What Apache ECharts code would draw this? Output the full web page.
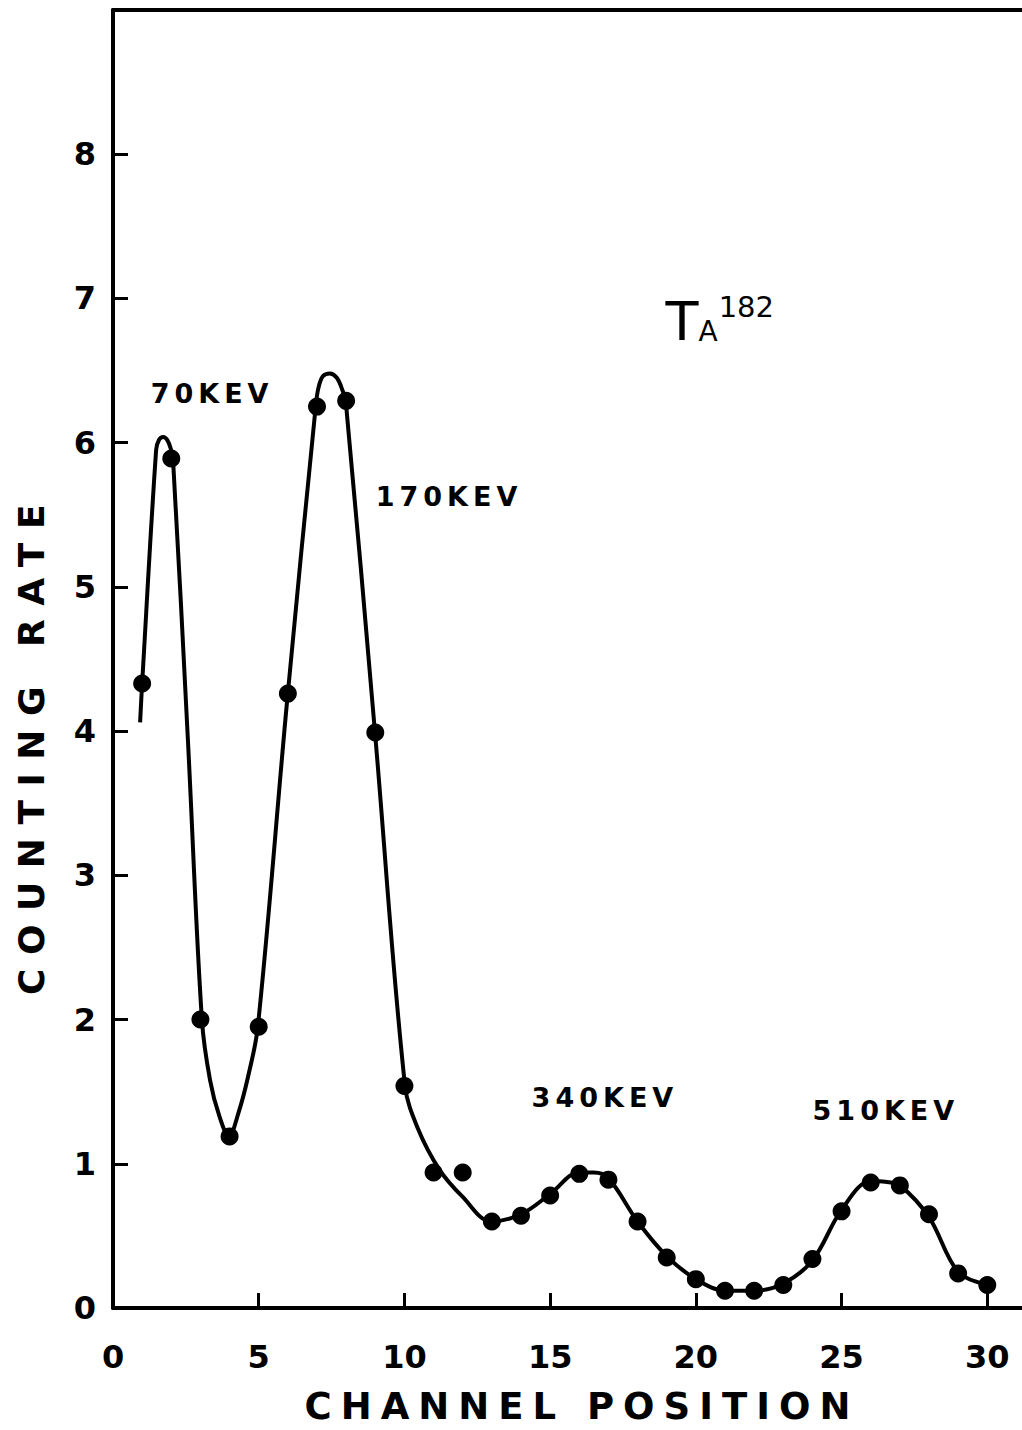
<!DOCTYPE html>
<html>
<head>
<meta charset="utf-8">
<title>Ta-182 gamma spectrum</title>
<script src="https://cdn.jsdelivr.net/npm/echarts@6/dist/echarts.min.js"></script>
<style>
  html, body { margin: 0; padding: 0; background: #fff; }
  #chart { width: 1022px; height: 1430px; }
  /* hand-lettered look: spaced-out capitals for titles and peak notes */
  #chart text[style*="27px"] { letter-spacing: 5px; }
  #chart text[style*="37px"] { letter-spacing: 9px; }
  #chart text[style*="36px"] { letter-spacing: 13.5px; }
</style>
</head>
<body>
<div id="chart"></div>
<script>
// Measured counting rate per channel
const channels = [1, 2, 3, 4, 5, 6, 7, 8, 9, 10, 11, 12, 13, 14, 15,
                  16, 17, 18, 19, 20, 21, 22, 23, 24, 25, 26, 27, 28, 29, 30];
const countingRate = [4.33, 5.89, 2.00, 1.19, 1.95, 4.26, 6.25, 6.29, 3.99, 1.54,
                      0.94, 0.94, 0.60, 0.64, 0.78, 0.93, 0.89, 0.60, 0.35, 0.20,
                      0.12, 0.12, 0.16, 0.34, 0.67, 0.87, 0.85, 0.65, 0.24, 0.16];

// Hand-drawn fitted curve through the spectrum
const fitChannel = [0.93, 1.00, 1.48, 1.58, 1.72, 1.86, 1.98, 2.06, 2.57, 3.05,
                    3.33, 3.65, 3.98, 4.30, 4.63, 4.97, 5.97, 6.96, 7.05, 7.20,
                    7.44, 7.68, 7.88, 7.99, 8.99, 10.02, 10.45, 11.20, 12.00, 12.97,
                    14, 15, 16, 16.5, 17, 18, 19, 20, 21, 22,
                    23, 24, 25, 26, 26.5, 27, 28, 29, 30];
const fitRate = [4.06, 4.33, 5.95, 6.02, 6.04, 6.02, 5.96, 5.88, 3.94, 2.00,
                 1.58, 1.33, 1.19, 1.35, 1.60, 1.95, 4.20, 6.26, 6.38, 6.46,
                 6.48, 6.45, 6.36, 6.28, 3.99, 1.54, 1.25, 0.96, 0.77, 0.60,
                 0.65, 0.79, 0.94, 0.94, 0.90, 0.60, 0.36, 0.20, 0.12, 0.12,
                 0.17, 0.33, 0.68, 0.88, 0.875, 0.85, 0.63, 0.25, 0.16];

// Tick labels
const xTicks = [0, 5, 10, 15, 20, 25, 30];
const yTicks = [0, 1, 2, 3, 4, 5, 6, 7, 8];

// Peak energies
const peakNames = ['70KEV', '170KEV', '340KEV', '510KEV'];

const INK = '#000';
const FONT = 'DejaVu Sans';

const chart = echarts.init(document.getElementById('chart'), null, { renderer: 'svg' });

// where each peak note sits, in channel / rate units
const noteAnchors = [[3.40, 6.34], [11.53, 5.63], [16.88, 1.46], [26.52, 1.37]];

const option = {
  animation: false,
  backgroundColor: '#fff',
  grid: { left: 113, top: 10, width: 918, bottom: 122, outerBoundsMode: 'none' },
  xAxis: [
    {
      type: 'value', min: 0, max: 31.5, interval: 5,
      axisLine: { show: true, lineStyle: { color: INK, width: 4 } },
      axisTick: { show: true, inside: true, length: 15, customValues: xTicks,
                  lineStyle: { color: INK, width: 3 } },
      axisLabel: { customValues: xTicks, margin: 33, color: INK, fontSize: 32,
                   fontWeight: 'bold', fontFamily: FONT },
      splitLine: { show: false }
    },
    {
      type: 'value', position: 'top', min: 0, max: 31.5,
      axisLine: { show: true, onZero: false, lineStyle: { color: INK, width: 4 } },
      axisTick: { show: false }, axisLabel: { show: false }, splitLine: { show: false }
    }
  ],
  yAxis: {
    type: 'value', min: 0, max: 9, interval: 1,
    axisLine: { show: true, lineStyle: { color: INK, width: 4 } },
    axisTick: { show: true, inside: true, length: 15, customValues: yTicks,
                lineStyle: { color: INK, width: 3 } },
    axisLabel: { customValues: yTicks, margin: 17, color: INK, fontSize: 32,
                 fontWeight: 'bold', fontFamily: FONT },
    splitLine: { show: false }
  },
  graphic: [
    {
      type: 'text', x: 31, y: 743, rotation: Math.PI / 2,
      style: { text: 'COUNTING RATE', fill: INK, font: 'bold 36px "DejaVu Sans"',
               textAlign: 'center', textVerticalAlign: 'middle' }
    },
    {
      type: 'text', x: 582, y: 1406,
      style: { text: 'CHANNEL POSITION', fill: INK, font: 'bold 37px "DejaVu Sans"',
               textAlign: 'center', textVerticalAlign: 'middle' }
    }
  ],
  series: [
    {
      name: 'fit', type: 'line', silent: true,
      data: fitChannel.map((c, i) => [c, fitRate[i]]),
      smooth: 0.35, showSymbol: false,
      lineStyle: { color: INK, width: 4 }, z: 2
    },
    {
      name: 'counts', type: 'scatter', silent: true,
      data: channels.map((c, i) => [c, countingRate[i]]),
      symbol: 'circle', symbolSize: 18,
      itemStyle: { color: INK, opacity: 1 }, z: 3
    },
    {
      name: 'notes', type: 'scatter', silent: true,
      symbolSize: 1, itemStyle: { color: 'rgba(0,0,0,0)', opacity: 1 },
      data: peakNames.map((n, i) => ({ name: n, value: noteAnchors[i] }))
        .concat([{ name: 'isotope', value: [20.82, 6.84] }]),
      label: {
        show: true, position: 'inside', color: INK, opacity: 1, fontFamily: FONT, fontSize: 27,
        fontWeight: 'bold',
        formatter: p => p.name === 'isotope' ? '{t|T}{a|A}{s|182}' : p.name,
        rich: {
          t: { fontSize: 54, fontFamily: FONT, fontWeight: 'normal', color: INK,
               lineHeight: 58, verticalAlign: 'middle' },
          a: { fontSize: 28, fontFamily: FONT, fontWeight: 'normal', color: INK,
               lineHeight: 28, verticalAlign: 'bottom', padding: [0, 0, 5, 0] },
          s: { fontSize: 29, fontFamily: FONT, fontWeight: 'normal', color: INK,
               lineHeight: 29, verticalAlign: 'top', padding: [0, 0, 0, 1] }
        }
      },
      z: 4
    }
  ]
};

chart.setOption(option);
</script>
</body>
</html>
